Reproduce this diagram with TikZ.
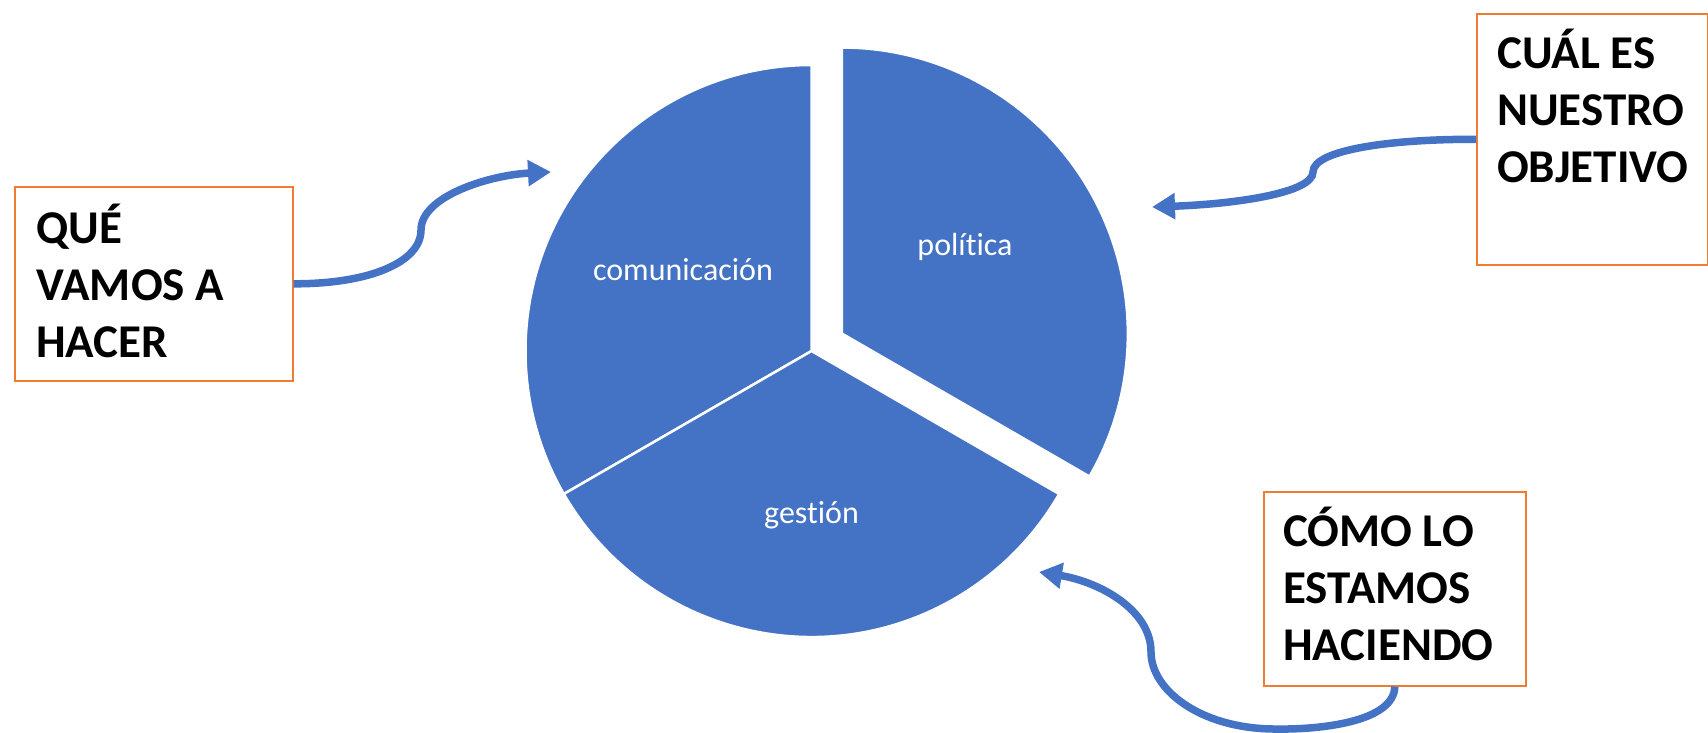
\documentclass[tikz,border=0pt]{standalone}
\usepackage{fontspec}
\setmainfont{Carlito}[Ligatures=NoCommon]
\usetikzlibrary{arrows.meta}
\definecolor{pieblue}{HTML}{4472C4}
\definecolor{boxorange}{HTML}{ED7D31}
\tikzset{
  slice/.style={fill=pieblue, draw=white, line width=2.5pt, line join=miter},
  slicelabel/.style={text=white, font=\fontsize{32}{38}\selectfont, inner sep=0pt},
  qbox/.style={draw=boxorange, line width=1.6pt, fill=white, inner sep=0pt, anchor=north west},
  qtext/.style={anchor=base west, inner sep=0pt, font=\bfseries},
  connector/.style={draw=pieblue, line width=7.5pt, -{Triangle[length=23pt,width=25pt]}}
}
\newcommand{\qlines}[1]{\parbox[t]{300pt}{\fontsize{47}{57}\selectfont\raggedright #1}}
\begin{document}
\begin{tikzpicture}[x=1pt,y=-1pt]
\useasboundingbox (0,0) rectangle (1708,733);
% pie
\coordinate (C) at (811.5,351);
\coordinate (P) at (841.8,333.5);
\path[slice] (C) -- ++(-90:286) arc[start angle=-90, end angle=-210, radius=286] -- cycle;
\path[slice] (C) -- ++(-210:286) arc[start angle=-210, end angle=-330, radius=286] -- cycle;
\path[slice] (P) -- ++(30:286) arc[start angle=30, end angle=-90, radius=286] -- cycle;
\node[slicelabel] (lcom) at (683,270) {comunicación};
\node[slicelabel] (lpol) at (965,247) {política};
\node[slicelabel] (lges) at (811.5,515) {gestión};
% boxes
\node[qbox, minimum width=278pt, minimum height=194pt] (boxL) at (14,186) {};
\node[qbox, minimum width=231pt, minimum height=251pt] (boxR) at (1476,13) {};
\node[qbox, minimum width=262pt, minimum height=194pt] (boxB) at (1263,491) {};
\node[qtext] (txtL) at (36,243) {\qlines{QUÉ\\VAMOS A\\HACER}};
\node[qtext] (txtR) at (1497,69) {\qlines{CUÁL ES\\NUESTRO\\OBJETIVO}};
\node[qtext] (txtB) at (1283,546) {\qlines{CÓMO LO\\ESTAMOS\\HACIENDO}};
% arrow tips
\coordinate (tipL) at (551,172);
\coordinate (tipR) at (1152,207);
\coordinate (tipB) at (1039,572);
% connectors
\draw[connector] (boxL.east) .. controls (370,284) and (421,262) .. (421,230)
  .. controls (421,196) and (490,175) .. (tipL);
\draw[connector] (boxR.west) .. controls (1390,139) and (1313,150) .. (1313,172)
  .. controls (1313,193) and (1235,204) .. (tipR);
\draw[connector] (boxB.south) .. controls (1394,722) and (1320,730) .. (1273,729)
  .. controls (1200,728) and (1151,690) .. (1151,652)
  .. controls (1151,610) and (1100,582) .. (tipB);
\end{tikzpicture}
\end{document}
